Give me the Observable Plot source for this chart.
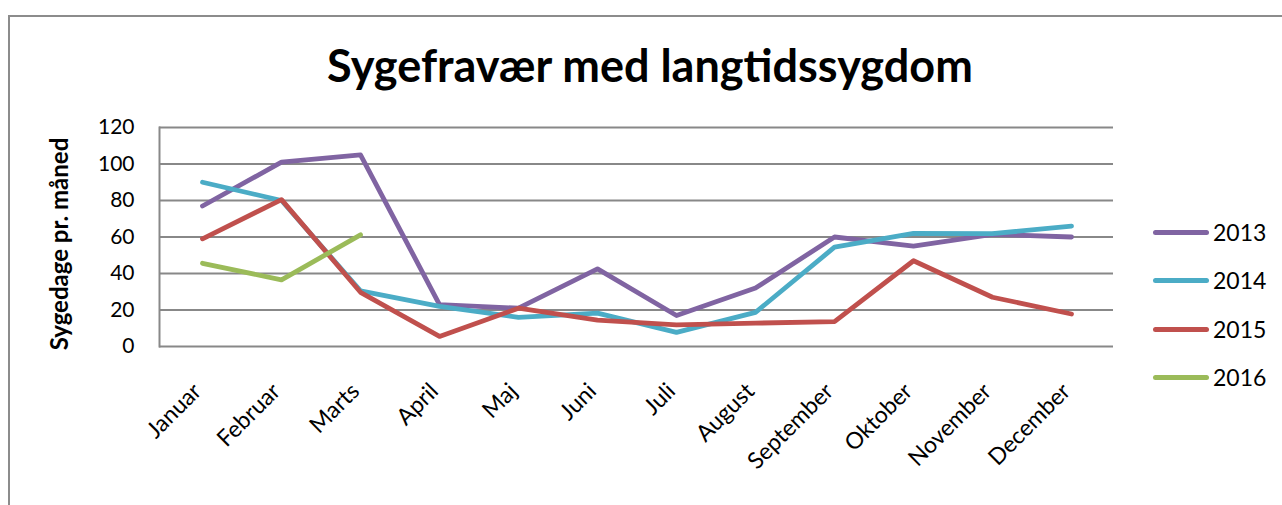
<!DOCTYPE html>
<html>
<head>
<meta charset="utf-8">
<script src="https://cdn.jsdelivr.net/npm/d3@7"></script>
<script src="https://cdn.jsdelivr.net/npm/@observablehq/plot@0.6"></script>
<style>
  html, body { margin: 0; padding: 0; background: #fff; }
  #wrap { position: relative; width: 1282px; height: 505px; overflow: hidden; font-family: Lato, "Open Sans", sans-serif; }
  #frame { position: absolute; left: 8px; top: 15px; width: 1300px; height: 600px; border: 2px solid #8c8c8c; box-sizing: border-box; }
  #title { position: absolute; left: 0; width: 1300px; top: 38px; text-align: center; font-size: 45px; line-height: 54px; font-weight: 700; color: #000; }
  #chart { position: absolute; left: 0; top: 0; }
  #legend { position: absolute; left: 1153px; top: 216px; }
  .item { height: 48.3px; display: flex; align-items: flex-start; }
  .swatch { width: 56px; height: 5px; border-radius: 3px; margin-top: 14px; }
  .lab { font-size: 23px; margin-left: 4px; line-height: 32px; color: #000; }
</style>
</head>
<body>
<div id="wrap">
  <div id="frame"></div>
  <div id="title">Sygefravær med langtidssygdom</div>
  <div id="chart"></div>
  <div id="legend"></div>
</div>
<script>
const months = ["Januar", "Februar", "Marts", "April", "Maj", "Juni", "Juli", "August", "September", "Oktober", "November", "December"];
const years = ["2013", "2014", "2015", "2016"];
const v2013 = [77, 101, 105, 23, 21, 42.5, 17, 32, 60, 55, 61.5, 60];
const v2014 = [90, 80, 30.5, 22, 16, 18.3, 7.7, 18.7, 54.4, 62, 61.8, 66];
const v2015 = [59, 80.5, 29.7, 5.5, 21, 14.5, 11.8, 12.8, 13.6, 47, 27, 17.8];
const v2016 = [45.6, 36.5, 61.2];
const yTicks = [0, 20, 40, 60, 80, 100, 120];
const colors = ["#8064A2", "#4BACC6", "#C0504D", "#9BBB59"];
const yLabel = "Sygedage pr. måned";

const series = [v2013, v2014, v2015, v2016];
const data = [];
series.forEach((vals, i) => vals.forEach((v, j) => data.push({year: years[i], month: months[j], value: v})));

const chart = Plot.plot({
  width: 1282,
  height: 505,
  marginLeft: 159,
  marginRight: 169,
  marginTop: 127,
  marginBottom: 159,
  style: {fontFamily: "Lato, 'Open Sans', sans-serif", background: "transparent", color: "#000"},
  x: {type: "point", domain: months, padding: 0.5},
  y: {domain: [0, 120]},
  color: {domain: years, range: colors},
  marks: [
    Plot.gridY(yTicks, {stroke: "#888", strokeOpacity: 1, strokeWidth: 2}),
    Plot.frame({anchor: "left", stroke: "#888", strokeWidth: 2}),
    Plot.axisY(yTicks, {tickSize: 0, tickPadding: 25, fontSize: 21, label: null, fill: "#000"}),
    Plot.axisX({tickSize: 0, tickRotate: -45, tickPadding: 41, dx: -5, fontSize: 23, label: null, fill: "#000"}),
    Plot.text([yLabel], {frameAnchor: "left", textAnchor: "middle", lineAnchor: "middle", rotate: -90, dx: -99, dy: 7, fontSize: 24, fontWeight: "bold", fill: "#000"}),
    Plot.line(data, {x: "month", y: "value", z: "year", stroke: "year", strokeWidth: 4.8, strokeLinecap: "round", strokeLinejoin: "round"})
  ]
});
document.getElementById("chart").appendChild(chart);

const legend = document.getElementById("legend");
years.forEach((y, i) => {
  const d = document.createElement("div");
  d.className = "item";
  d.innerHTML = `<div class="swatch" style="background:${colors[i]}"></div><div class="lab">${y}</div>`;
  legend.appendChild(d);
});
</script>
</body>
</html>
